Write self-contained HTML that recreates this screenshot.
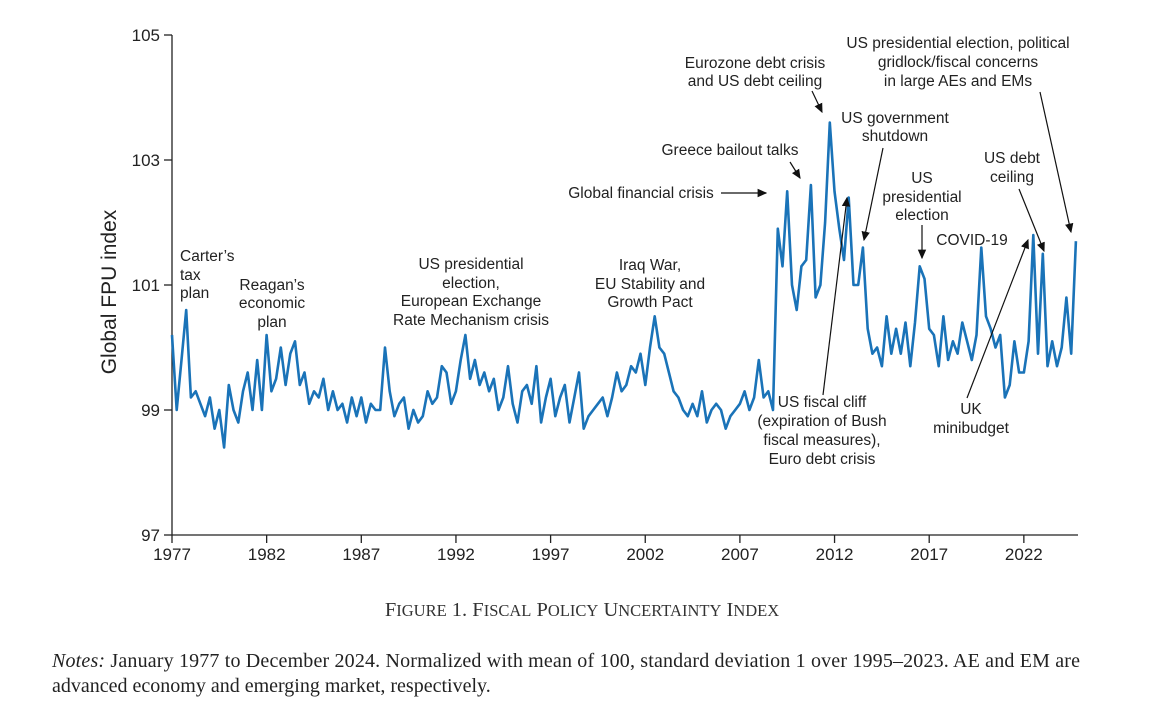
<!DOCTYPE html>
<html><head><meta charset="utf-8"><style>
body{margin:0;background:#fff;width:1174px;height:706px;overflow:hidden;font-family:"Liberation Sans",sans-serif}
svg{position:absolute;left:0;top:0}
.ser{font-family:"Liberation Serif",serif}
</style></head><body>
<svg width="1174" height="706">
<defs><marker id="ah" markerWidth="8" markerHeight="8" refX="7" refY="4" orient="auto"><path d="M0,0.5 L8,4 L0,7.5 Z" fill="#111"/></marker></defs>
<g id="axes"></g>
<path id="line" fill="none" stroke="#1a73b8" stroke-width="2.6" stroke-linejoin="round"/>
<text transform="translate(116,292) rotate(-90)" text-anchor="middle" font-size="21" fill="#222">Global FPU index</text>
<g font-size="15.5" fill="#222" text-anchor="middle">
<text x="180" y="261" text-anchor="start">Carter’s</text><text x="180" y="280" text-anchor="start">tax</text><text x="180" y="298" text-anchor="start">plan</text>
<text x="272" y="290">Reagan’s</text><text x="272" y="308">economic</text><text x="272" y="327">plan</text>
<text x="471" y="269">US presidential</text><text x="471" y="288">election,</text><text x="471" y="306">European Exchange</text><text x="471" y="325">Rate Mechanism crisis</text>
<text x="650" y="270">Iraq War,</text><text x="650" y="289">EU Stability and</text><text x="650" y="307">Growth Pact</text>
<text x="755" y="68">Eurozone debt crisis</text><text x="755" y="86">and US debt ceiling</text>
<text x="730" y="155">Greece bailout talks</text>
<text x="641" y="198">Global financial crisis</text>
<text x="895" y="123">US government</text><text x="895" y="141">shutdown</text>
<text x="922" y="183">US</text><text x="922" y="202">presidential</text><text x="922" y="220">election</text>
<text x="972" y="245">COVID-19</text>
<text x="1012" y="163">US debt</text><text x="1012" y="182">ceiling</text>
<text x="958" y="48">US presidential election, political</text><text x="958" y="67">gridlock/fiscal concerns</text><text x="958" y="86">in large AEs and EMs</text>
<text x="822" y="407">US fiscal cliff</text><text x="822" y="426">(expiration of Bush</text><text x="822" y="445">fiscal measures),</text><text x="822" y="464">Euro debt crisis</text>
<text x="971" y="414">UK</text><text x="971" y="433">minibudget</text>
</g>
<g stroke="#111" stroke-width="1.2" marker-end="url(#ah)">
<line x1="812" y1="91" x2="822" y2="112"/><line x1="790" y1="162" x2="800" y2="178"/>
<line x1="721" y1="193" x2="766" y2="193"/><line x1="883" y1="148" x2="864" y2="240"/>
<line x1="922" y1="225" x2="922" y2="258"/><line x1="1019" y1="189" x2="1044" y2="251"/>
<line x1="1040" y1="92" x2="1071" y2="232"/><line x1="823" y1="395" x2="847" y2="198"/>
<line x1="967" y1="398" x2="1028" y2="240"/>
</g>
<text class="ser" x="582" y="616" text-anchor="middle" font-size="20.5" fill="#333">F<tspan font-size="16.5">IGURE</tspan> 1. F<tspan font-size="16.5">ISCAL</tspan> P<tspan font-size="16.5">OLICY</tspan> U<tspan font-size="16.5">NCERTAINTY</tspan> I<tspan font-size="16.5">NDEX</tspan></text>
<text class="ser" x="52" y="667" font-size="20" textLength="1028" fill="#222"><tspan font-style="italic">Notes:</tspan> January 1977 to December 2024. Normalized with mean of 100, standard deviation 1 over 1995–2023. AE and EM are</text>
<text class="ser" x="52" y="692" font-size="20" fill="#222">advanced economy and emerging market, respectively.</text>
</svg>
<script>
const startYear = 1977;
const values = [
100.2,99.0,99.8,100.6, 99.2,99.3,99.1,98.9, 99.2,98.7,99.0,98.4, 99.4,99.0,98.8,99.3,
99.6,99.0,99.8,99.0, 100.2,99.3,99.5,100.0, 99.4,99.9,100.1,99.4, 99.6,99.1,99.3,99.2,
99.5,99.0,99.3,99.0, 99.1,98.8,99.2,98.9, 99.2,98.8,99.1,99.0, 99.0,100.0,99.3,98.9,
99.1,99.2,98.7,99.0, 98.8,98.9,99.3,99.1, 99.2,99.7,99.6,99.1, 99.3,99.8,100.2,99.5,
99.8,99.4,99.6,99.3, 99.5,99.0,99.2,99.7, 99.1,98.8,99.3,99.4, 99.1,99.7,98.8,99.2,
99.5,98.9,99.2,99.4, 98.8,99.2,99.6,98.7, 98.9,99.0,99.1,99.2, 98.9,99.2,99.6,99.3,
99.4,99.7,99.6,99.9, 99.4,100.0,100.5,100.0, 99.9,99.6,99.3,99.2, 99.0,98.9,99.1,98.9,
99.3,98.8,99.0,99.1, 99.0,98.7,98.9,99.0, 99.1,99.3,99.0,99.2, 99.8,99.2,99.3,99.0,
101.9,101.3,102.5,101.0, 100.6,101.3,101.4,102.6, 100.8,101.0,102.0,103.6, 102.5,101.9,101.4,102.4,
101.0,101.0,101.6,100.3, 99.9,100.0,99.7,100.5, 99.9,100.3,99.9,100.4, 99.7,100.4,101.3,101.1,
100.3,100.2,99.7,100.5, 99.8,100.1,99.9,100.4, 100.1,99.8,100.2,101.6, 100.5,100.3,100.0,100.2,
99.2,99.4,100.1,99.6, 99.6,100.1,101.8,99.9, 101.5,99.7,100.1,99.7, 100.0,100.8,99.9,101.7];
const yTicks = [97,99,101,103,105];
const xTicks = [1977,1982,1987,1992,1997,2002,2007,2012,2017,2022];
const X0=172, PXY=18.93, Y0=535, PXV=62.5;
const xs = t => X0+(t-1977)*PXY;
const ys = v => Y0-(v-97)*PXV;
const ns="http://www.w3.org/2000/svg";
const ax=document.getElementById('axes');
function mk(tag,attrs){const e=document.createElementNS(ns,tag);for(const k in attrs)e.setAttribute(k,attrs[k]);ax.appendChild(e);return e;}
let a=mk('line',{x1:172,y1:35,x2:172,y2:535,stroke:'#222','stroke-width':1.3});


a=mk('line',{x1:172,y1:535,x2:1078,y2:535,stroke:'#222','stroke-width':1.3});


yTicks.forEach(v=>{mk('line',{x1:164,x2:172,y1:ys(v),y2:ys(v),stroke:'#222','stroke-width':1.3});
const t=mk('text',{x:160,y:ys(v)+6,'text-anchor':'end','font-size':17,fill:'#222'});t.textContent=v;

});
xTicks.forEach(y=>{mk('line',{x1:xs(y),x2:xs(y),y1:535,y2:543,stroke:'#222','stroke-width':1.3});
const t=mk('text',{x:xs(y),y:560,'text-anchor':'middle','font-size':17,fill:'#222'});t.textContent=y;

});
const d=values.map((v,i)=>(i?'L':'M')+xs(startYear+i/4).toFixed(1)+','+ys(v).toFixed(1)).join('');
document.getElementById('line').setAttribute('d',d);
</script>
</body></html>
